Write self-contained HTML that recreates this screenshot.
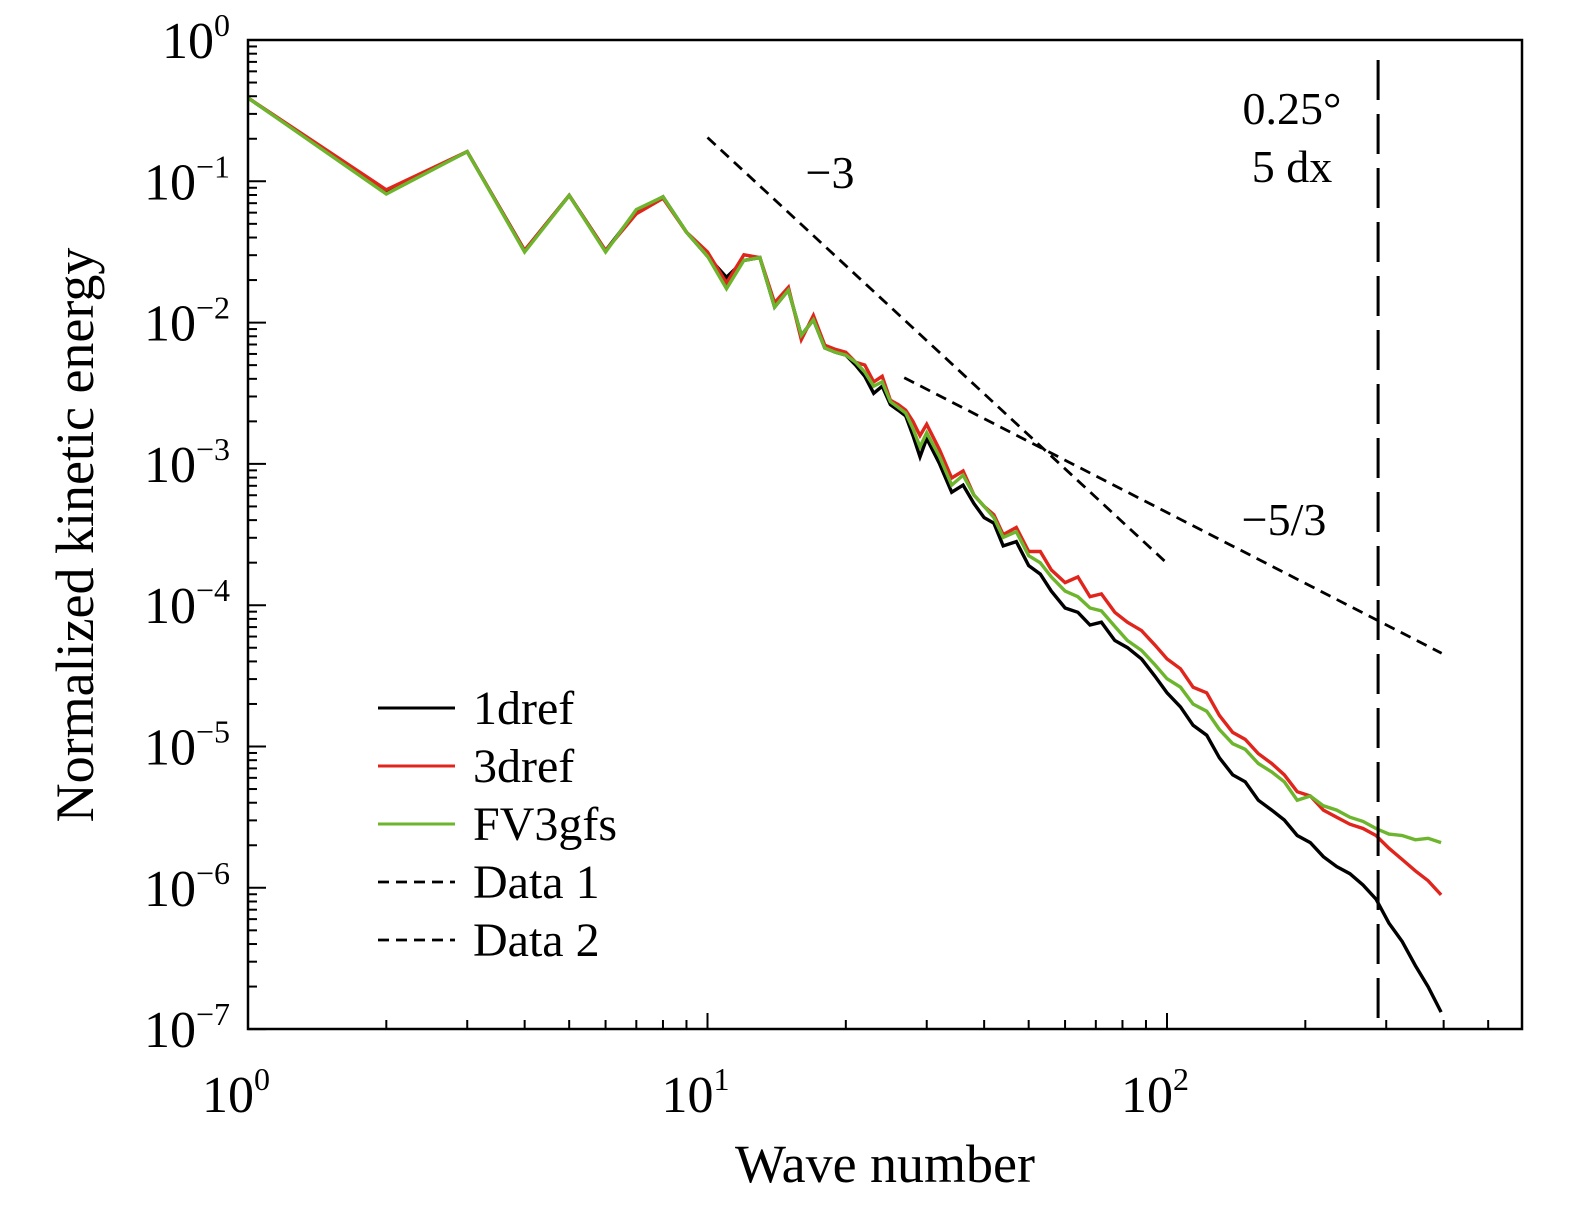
<!DOCTYPE html>
<html><head><meta charset="utf-8">
<style>
html,body{margin:0;padding:0;background:#fff;}
svg{display:block;font-family:"Liberation Serif",serif;}
</style></head>
<body>
<svg id="chart" width="1575" height="1205" viewBox="0 0 1575 1205" xmlns="http://www.w3.org/2000/svg">
<rect x="0" y="0" width="1575" height="1205" fill="#fff"/>
<g id="series"></g>
<rect x="248" y="40" width="1274" height="989" fill="none" stroke="#000" stroke-width="2.5"/>
<g id="axes"></g>
<text x="0" y="0" transform="translate(93,535) rotate(-90)" text-anchor="middle" font-size="54">Normalized kinetic energy</text>
<text x="885" y="1182" text-anchor="middle" font-size="54">Wave number</text>
<text x="830" y="188" text-anchor="middle" font-size="46">−3</text>
<text x="1284" y="535" text-anchor="middle" font-size="46">−5/3</text>
<text x="1292" y="124" text-anchor="middle" font-size="46">0.25°</text>
<text x="1292" y="182" text-anchor="middle" font-size="46">5 dx</text>
<g id="legend"></g>
</svg>
<script>
const ks = [1,2,3,4,5,6,7,8,9,10,11,12,13,14,15,16,17,18,19,20,
21,22,23,24,25,26,27,28,29,30,32,34,36,38,40,42,44,47,50,53,56,60,64,68,72,77,82,88,94,
100,107,114,122,130,139,148,158,169,180,192,205,219,234,250,267,285,304,325,347,370,395];
const logBlack = [-0.41,-1.08,-0.79,-1.49,-1.10,-1.49,-1.21,-1.11,-1.36,-1.53,-1.68,-1.56,-1.54,-1.89,-1.77,-2.09,-1.98,-2.18,-2.21,-2.23,
-2.30,-2.38,-2.50,-2.45,-2.58,-2.62,-2.66,-2.80,-2.95,-2.82,-3.00,-3.20,-3.15,-3.28,-3.38,-3.42,-3.58,-3.55,-3.72,-3.78,
-3.90,-4.02,-4.05,-4.14,-4.12,-4.25,-4.30,-4.38,-4.50,
-4.62,-4.72,-4.85,-4.92,-5.08,-5.20,-5.25,-5.38,-5.45,-5.52,-5.63,-5.68,-5.78,-5.85,-5.90,-5.98,-6.08,-6.25,-6.38,-6.55,-6.70,-6.88];
const logRed = [-0.41,-1.06,-0.79,-1.49,-1.10,-1.49,-1.23,-1.12,-1.36,-1.50,-1.72,-1.52,-1.54,-1.86,-1.75,-2.12,-1.95,-2.16,-2.19,-2.21,
-2.28,-2.30,-2.42,-2.38,-2.55,-2.58,-2.62,-2.70,-2.80,-2.72,-2.90,-3.10,-3.05,-3.22,-3.30,-3.36,-3.50,-3.45,-3.62,-3.62,
-3.75,-3.84,-3.80,-3.94,-3.92,-4.05,-4.12,-4.18,-4.28,
-4.38,-4.45,-4.58,-4.62,-4.78,-4.90,-4.95,-5.05,-5.12,-5.20,-5.32,-5.35,-5.45,-5.50,-5.55,-5.58,-5.63,-5.72,-5.80,-5.88,-5.95,-6.05];
const logGreen = [-0.41,-1.09,-0.79,-1.50,-1.10,-1.50,-1.20,-1.11,-1.36,-1.53,-1.76,-1.56,-1.54,-1.89,-1.77,-2.09,-1.98,-2.18,-2.21,-2.23,
-2.28,-2.35,-2.45,-2.42,-2.56,-2.60,-2.64,-2.75,-2.88,-2.78,-2.95,-3.15,-3.08,-3.22,-3.30,-3.38,-3.52,-3.48,-3.65,-3.70,
-3.80,-3.90,-3.94,-4.02,-4.04,-4.15,-4.25,-4.32,-4.42,
-4.52,-4.58,-4.70,-4.75,-4.88,-4.98,-5.02,-5.12,-5.18,-5.25,-5.38,-5.35,-5.42,-5.45,-5.50,-5.53,-5.58,-5.62,-5.63,-5.66,-5.65,-5.68];
const refLine1K = [10, 99];
const refLine1Log = [-0.69, -3.69];
const refLine2K = [26.8, 396];
const refLine2Log = [-2.39, -4.34];
const cutoffK = [288];
const xTickLabels = ["0","1","2"];
const yTickExps = [0,-1,-2,-3,-4,-5,-6,-7];
const legendLabels = ["1dref","3dref","FV3gfs","Data 1","Data 2"];

const X0=248, DEC_X=459.5, Y0=40, DEC_Y=141.3;
function xs(k){return X0+Math.log10(k)*DEC_X;}
function ysLog(l){return Y0-l*DEC_Y;}
const NS="http://www.w3.org/2000/svg";
function mk(tag,attrs,parent){const e=document.createElementNS(NS,tag);for(const a in attrs)e.setAttribute(a,attrs[a]);parent.appendChild(e);return e;}

const axes=document.getElementById('axes');
for(let d=0; d<3; d++){
  for(let m=1;m<=9;m++){
    const k=Math.pow(10,d)*m; const x=xs(k); if(x>1522) break;
    const len = m===1?16:9;
    const t=mk('line',{x1:x,x2:x,y1:1029,y2:1029-len,stroke:'#000','stroke-width':2},axes);
    
    
  }
}
xTickLabels.forEach((e,i)=>{
  const t=mk('text',{x:X0+i*DEC_X-12,y:1112,'text-anchor':'middle','font-size':52},axes);
  
  
  t.textContent='10';
  const s=mk('tspan',{dy:-22,'font-size':32},t); s.textContent=e;
});
yTickExps.forEach((e,i)=>{
  const y=ysLog(e);
  const t=mk('line',{x1:248,x2:266,y1:y,y2:y,stroke:'#000','stroke-width':2},axes);
  
  
  if(e>-7){for(let m=2;m<=9;m++){const yy=ysLog(e-1+Math.log10(m));
    const mt=mk('line',{x1:248,x2:257,y1:yy,y2:yy,stroke:'#000','stroke-width':2},axes);
    
    }}
  const lab=mk('text',{x:230,y:y+18,'text-anchor':'end','font-size':52},axes);
  
  
  lab.textContent='10';
  const s=mk('tspan',{dy:-22,'font-size':32},lab); s.textContent=e===0?'0':'−'+(-e);
});

const series=document.getElementById('series');
function poly(vals,color,name){
  const pts=ks.map((k,i)=>xs(k).toFixed(1)+','+ysLog(vals[i]).toFixed(1)).join(' ');
  const p=mk('polyline',{points:pts,fill:'none',stroke:color,'stroke-width':3.4,'stroke-linejoin':'miter'},series);
  
  
}
poly(logBlack,'#000','series-1dref');
poly(logRed,'#e0251c','series-3dref');
poly(logGreen,'#6cb52d','series-fv3gfs');
function ref(kArr,lArr,name){
  const l=mk('line',{x1:xs(kArr[0]),y1:ysLog(lArr[0]),x2:xs(kArr[1]),y2:ysLog(lArr[1]),stroke:'#000','stroke-width':2.8,'stroke-dasharray':'11 7'},series);
  
  
}
ref(refLine1K,refLine1Log,'slope-minus3-line');
ref(refLine2K,refLine2Log,'slope-minus5-3-line');
const cx=xs(cutoffK[0]);
const vl=mk('line',{x1:cx,x2:cx,y1:60,y2:1029,stroke:'#000','stroke-width':3,'stroke-dasharray':'40 14'},series);



const legend=document.getElementById('legend');
const lcol=['#000','#e0251c','#6cb52d','#000','#000'];
legendLabels.forEach((lab,i)=>{
  const y=708+i*58;
  const l=mk('line',{x1:378,x2:455,y1:y,y2:y,stroke:lcol[i],'stroke-width':i<3?3:2.8},legend);
  if(i>=3) l.setAttribute('stroke-dasharray','11 7');
  
  
  const t=mk('text',{x:473,y:y+16,'font-size':48},legend);
  
  
  t.textContent=lab;
});
</script>
</body></html>
